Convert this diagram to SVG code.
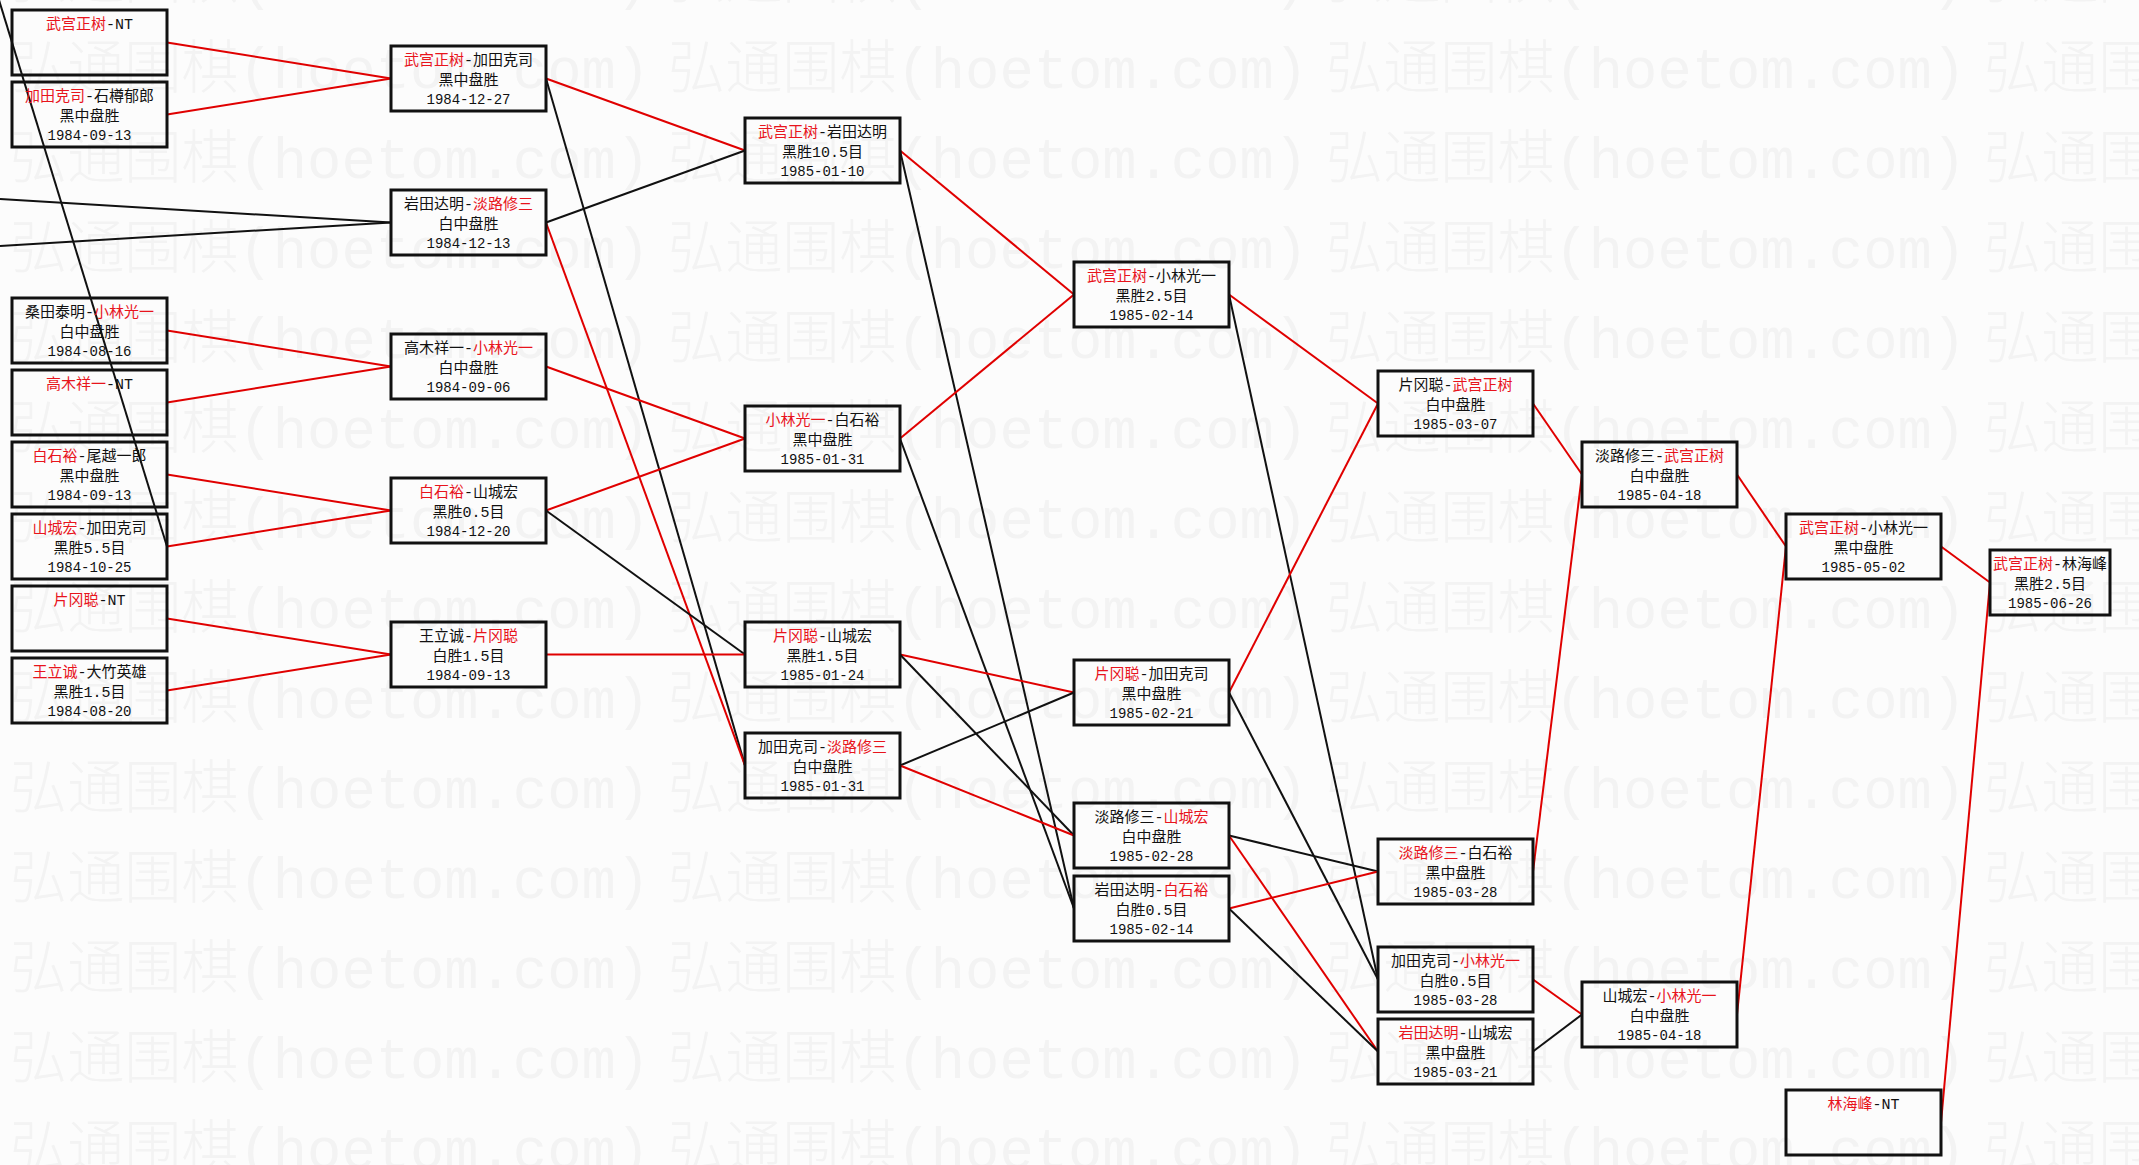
<svg xmlns="http://www.w3.org/2000/svg" width="2139" height="1165" viewBox="0 0 2139 1165">
<defs>
<style>
.box{fill:none;stroke:#111;stroke-width:3}
.t{font-family:"Liberation Mono","Noto Sans CJK SC",monospace;font-size:15px;fill:#111;text-anchor:middle}
.r{fill:#e8141c}
.d{font-size:14px}
.cr{stroke:#e00000;stroke-width:2;fill:none}
.cb{stroke:#111;stroke-width:2;fill:none}
.wm{font-family:"Liberation Mono","Noto Sans CJK SC",monospace;font-size:58px;font-weight:300;fill:#f3f3f3}
</style>
<pattern id="wmp" x="10" y="28" width="658" height="90" patternUnits="userSpaceOnUse">
<text class="wm" x="0" y="60" textLength="640" lengthAdjust="spacingAndGlyphs">弘通围棋(hoetom.com)</text>
</pattern>
</defs>
<rect width="2139" height="1165" fill="#fcfcfc"/>
<rect id="watermark" width="2139" height="1165" fill="url(#wmp)"/>
<g id="connectors">
<line class="cr" x1="167" y1="42.5" x2="391" y2="78.5"/>
<line class="cr" x1="167" y1="114.5" x2="391" y2="78.5"/>
<line class="cb" x1="0" y1="199" x2="391" y2="222.5"/>
<line class="cb" x1="0" y1="246" x2="391" y2="222.5"/>
<line class="cb" x1="-1" y1="0" x2="167" y2="546.5"/>
<line class="cr" x1="167" y1="330.5" x2="391" y2="366.5"/>
<line class="cr" x1="167" y1="402.5" x2="391" y2="366.5"/>
<line class="cr" x1="167" y1="474.5" x2="391" y2="510.5"/>
<line class="cr" x1="167" y1="546.5" x2="391" y2="510.5"/>
<line class="cr" x1="167" y1="618.5" x2="391" y2="654.5"/>
<line class="cr" x1="167" y1="690.5" x2="391" y2="654.5"/>
<line class="cr" x1="546" y1="78.5" x2="745" y2="150.5"/>
<line class="cb" x1="546" y1="78.5" x2="745" y2="765.5"/>
<line class="cb" x1="546" y1="222.5" x2="745" y2="150.5"/>
<line class="cr" x1="546" y1="222.5" x2="745" y2="765.5"/>
<line class="cr" x1="546" y1="366.5" x2="745" y2="438.5"/>
<line class="cr" x1="546" y1="510.5" x2="745" y2="438.5"/>
<line class="cb" x1="546" y1="510.5" x2="745" y2="654.5"/>
<line class="cr" x1="546" y1="654.5" x2="745" y2="654.5"/>
<line class="cr" x1="900" y1="150.5" x2="1074" y2="294.5"/>
<line class="cb" x1="900" y1="150.5" x2="1074" y2="908.5"/>
<line class="cr" x1="900" y1="438.5" x2="1074" y2="294.5"/>
<line class="cb" x1="900" y1="438.5" x2="1074" y2="908.5"/>
<line class="cr" x1="900" y1="654.5" x2="1074" y2="692.5"/>
<line class="cb" x1="900" y1="654.5" x2="1074" y2="835.5"/>
<line class="cb" x1="900" y1="765.5" x2="1074" y2="692.5"/>
<line class="cr" x1="900" y1="765.5" x2="1074" y2="835.5"/>
<line class="cr" x1="1229" y1="294.5" x2="1378" y2="403.5"/>
<line class="cb" x1="1229" y1="294.5" x2="1378" y2="979.5"/>
<line class="cr" x1="1229" y1="692.5" x2="1378" y2="403.5"/>
<line class="cb" x1="1229" y1="692.5" x2="1378" y2="979.5"/>
<line class="cb" x1="1229" y1="835.5" x2="1378" y2="871.5"/>
<line class="cr" x1="1229" y1="835.5" x2="1378" y2="1051.5"/>
<line class="cr" x1="1229" y1="908.5" x2="1378" y2="871.5"/>
<line class="cb" x1="1229" y1="908.5" x2="1378" y2="1051.5"/>
<line class="cr" x1="1533" y1="403.5" x2="1582" y2="474.5"/>
<line class="cr" x1="1533" y1="871.5" x2="1582" y2="474.5"/>
<line class="cr" x1="1533" y1="979.5" x2="1582" y2="1014.5"/>
<line class="cb" x1="1533" y1="1051.5" x2="1582" y2="1014.5"/>
<line class="cr" x1="1737" y1="474.5" x2="1786" y2="546.5"/>
<line class="cr" x1="1737" y1="1014.5" x2="1786" y2="546.5"/>
<line class="cr" x1="1941" y1="546.5" x2="1990" y2="582.5"/>
<line class="cr" x1="1941" y1="1122.5" x2="1990" y2="582.5"/>
</g>
<g id="A1"><rect class="box" x="12" y="10" width="155" height="65"/><text class="t" x="89.5" y="29"><tspan class="r">武宫正树</tspan>-NT</text></g>
<g id="A2"><rect class="box" x="12" y="82" width="155" height="65"/><text class="t" x="89.5" y="101"><tspan class="r">加田克司</tspan>-石樽郁郎</text><text class="t" x="89.5" y="121">黑中盘胜</text><text class="t d" x="89.5" y="140">1984-09-13</text></g>
<g id="A3"><rect class="box" x="12" y="298" width="155" height="65"/><text class="t" x="89.5" y="317">桑田泰明-<tspan class="r">小林光一</tspan></text><text class="t" x="89.5" y="337">白中盘胜</text><text class="t d" x="89.5" y="356">1984-08-16</text></g>
<g id="A4"><rect class="box" x="12" y="370" width="155" height="65"/><text class="t" x="89.5" y="389"><tspan class="r">高木祥一</tspan>-NT</text></g>
<g id="A5"><rect class="box" x="12" y="442" width="155" height="65"/><text class="t" x="89.5" y="461"><tspan class="r">白石裕</tspan>-尾越一郎</text><text class="t" x="89.5" y="481">黑中盘胜</text><text class="t d" x="89.5" y="500">1984-09-13</text></g>
<g id="A6"><rect class="box" x="12" y="514" width="155" height="65"/><text class="t" x="89.5" y="533"><tspan class="r">山城宏</tspan>-加田克司</text><text class="t" x="89.5" y="553">黑胜5.5目</text><text class="t d" x="89.5" y="572">1984-10-25</text></g>
<g id="A7"><rect class="box" x="12" y="586" width="155" height="65"/><text class="t" x="89.5" y="605"><tspan class="r">片冈聪</tspan>-NT</text></g>
<g id="A8"><rect class="box" x="12" y="658" width="155" height="65"/><text class="t" x="89.5" y="677"><tspan class="r">王立诚</tspan>-大竹英雄</text><text class="t" x="89.5" y="697">黑胜1.5目</text><text class="t d" x="89.5" y="716">1984-08-20</text></g>
<g id="B1"><rect class="box" x="391" y="46" width="155" height="65"/><text class="t" x="468.5" y="65"><tspan class="r">武宫正树</tspan>-加田克司</text><text class="t" x="468.5" y="85">黑中盘胜</text><text class="t d" x="468.5" y="104">1984-12-27</text></g>
<g id="B2"><rect class="box" x="391" y="190" width="155" height="65"/><text class="t" x="468.5" y="209">岩田达明-<tspan class="r">淡路修三</tspan></text><text class="t" x="468.5" y="229">白中盘胜</text><text class="t d" x="468.5" y="248">1984-12-13</text></g>
<g id="B3"><rect class="box" x="391" y="334" width="155" height="65"/><text class="t" x="468.5" y="353">高木祥一-<tspan class="r">小林光一</tspan></text><text class="t" x="468.5" y="373">白中盘胜</text><text class="t d" x="468.5" y="392">1984-09-06</text></g>
<g id="B4"><rect class="box" x="391" y="478" width="155" height="65"/><text class="t" x="468.5" y="497"><tspan class="r">白石裕</tspan>-山城宏</text><text class="t" x="468.5" y="517">黑胜0.5目</text><text class="t d" x="468.5" y="536">1984-12-20</text></g>
<g id="B5"><rect class="box" x="391" y="622" width="155" height="65"/><text class="t" x="468.5" y="641">王立诚-<tspan class="r">片冈聪</tspan></text><text class="t" x="468.5" y="661">白胜1.5目</text><text class="t d" x="468.5" y="680">1984-09-13</text></g>
<g id="C1"><rect class="box" x="745" y="118" width="155" height="65"/><text class="t" x="822.5" y="137"><tspan class="r">武宫正树</tspan>-岩田达明</text><text class="t" x="822.5" y="157">黑胜10.5目</text><text class="t d" x="822.5" y="176">1985-01-10</text></g>
<g id="C2"><rect class="box" x="745" y="406" width="155" height="65"/><text class="t" x="822.5" y="425"><tspan class="r">小林光一</tspan>-白石裕</text><text class="t" x="822.5" y="445">黑中盘胜</text><text class="t d" x="822.5" y="464">1985-01-31</text></g>
<g id="C3"><rect class="box" x="745" y="622" width="155" height="65"/><text class="t" x="822.5" y="641"><tspan class="r">片冈聪</tspan>-山城宏</text><text class="t" x="822.5" y="661">黑胜1.5目</text><text class="t d" x="822.5" y="680">1985-01-24</text></g>
<g id="C4"><rect class="box" x="745" y="733" width="155" height="65"/><text class="t" x="822.5" y="752">加田克司-<tspan class="r">淡路修三</tspan></text><text class="t" x="822.5" y="772">白中盘胜</text><text class="t d" x="822.5" y="791">1985-01-31</text></g>
<g id="D1"><rect class="box" x="1074" y="262" width="155" height="65"/><text class="t" x="1151.5" y="281"><tspan class="r">武宫正树</tspan>-小林光一</text><text class="t" x="1151.5" y="301">黑胜2.5目</text><text class="t d" x="1151.5" y="320">1985-02-14</text></g>
<g id="D2"><rect class="box" x="1074" y="660" width="155" height="65"/><text class="t" x="1151.5" y="679"><tspan class="r">片冈聪</tspan>-加田克司</text><text class="t" x="1151.5" y="699">黑中盘胜</text><text class="t d" x="1151.5" y="718">1985-02-21</text></g>
<g id="D3"><rect class="box" x="1074" y="803" width="155" height="65"/><text class="t" x="1151.5" y="822">淡路修三-<tspan class="r">山城宏</tspan></text><text class="t" x="1151.5" y="842">白中盘胜</text><text class="t d" x="1151.5" y="861">1985-02-28</text></g>
<g id="D4"><rect class="box" x="1074" y="876" width="155" height="65"/><text class="t" x="1151.5" y="895">岩田达明-<tspan class="r">白石裕</tspan></text><text class="t" x="1151.5" y="915">白胜0.5目</text><text class="t d" x="1151.5" y="934">1985-02-14</text></g>
<g id="E1"><rect class="box" x="1378" y="371" width="155" height="65"/><text class="t" x="1455.5" y="390">片冈聪-<tspan class="r">武宫正树</tspan></text><text class="t" x="1455.5" y="410">白中盘胜</text><text class="t d" x="1455.5" y="429">1985-03-07</text></g>
<g id="E2"><rect class="box" x="1378" y="839" width="155" height="65"/><text class="t" x="1455.5" y="858"><tspan class="r">淡路修三</tspan>-白石裕</text><text class="t" x="1455.5" y="878">黑中盘胜</text><text class="t d" x="1455.5" y="897">1985-03-28</text></g>
<g id="E3"><rect class="box" x="1378" y="947" width="155" height="65"/><text class="t" x="1455.5" y="966">加田克司-<tspan class="r">小林光一</tspan></text><text class="t" x="1455.5" y="986">白胜0.5目</text><text class="t d" x="1455.5" y="1005">1985-03-28</text></g>
<g id="E4"><rect class="box" x="1378" y="1019" width="155" height="65"/><text class="t" x="1455.5" y="1038"><tspan class="r">岩田达明</tspan>-山城宏</text><text class="t" x="1455.5" y="1058">黑中盘胜</text><text class="t d" x="1455.5" y="1077">1985-03-21</text></g>
<g id="F1"><rect class="box" x="1582" y="442" width="155" height="65"/><text class="t" x="1659.5" y="461">淡路修三-<tspan class="r">武宫正树</tspan></text><text class="t" x="1659.5" y="481">白中盘胜</text><text class="t d" x="1659.5" y="500">1985-04-18</text></g>
<g id="F2"><rect class="box" x="1582" y="982" width="155" height="65"/><text class="t" x="1659.5" y="1001">山城宏-<tspan class="r">小林光一</tspan></text><text class="t" x="1659.5" y="1021">白中盘胜</text><text class="t d" x="1659.5" y="1040">1985-04-18</text></g>
<g id="G1"><rect class="box" x="1786" y="514" width="155" height="65"/><text class="t" x="1863.5" y="533"><tspan class="r">武宫正树</tspan>-小林光一</text><text class="t" x="1863.5" y="553">黑中盘胜</text><text class="t d" x="1863.5" y="572">1985-05-02</text></g>
<g id="G2"><rect class="box" x="1786" y="1090" width="155" height="65"/><text class="t" x="1863.5" y="1109"><tspan class="r">林海峰</tspan>-NT</text></g>
<g id="H1"><rect class="box" x="1990" y="550" width="120" height="65"/><text class="t" x="2050" y="569"><tspan class="r">武宫正树</tspan>-林海峰</text><text class="t" x="2050" y="589">黑胜2.5目</text><text class="t d" x="2050" y="608">1985-06-26</text></g>
</svg>
